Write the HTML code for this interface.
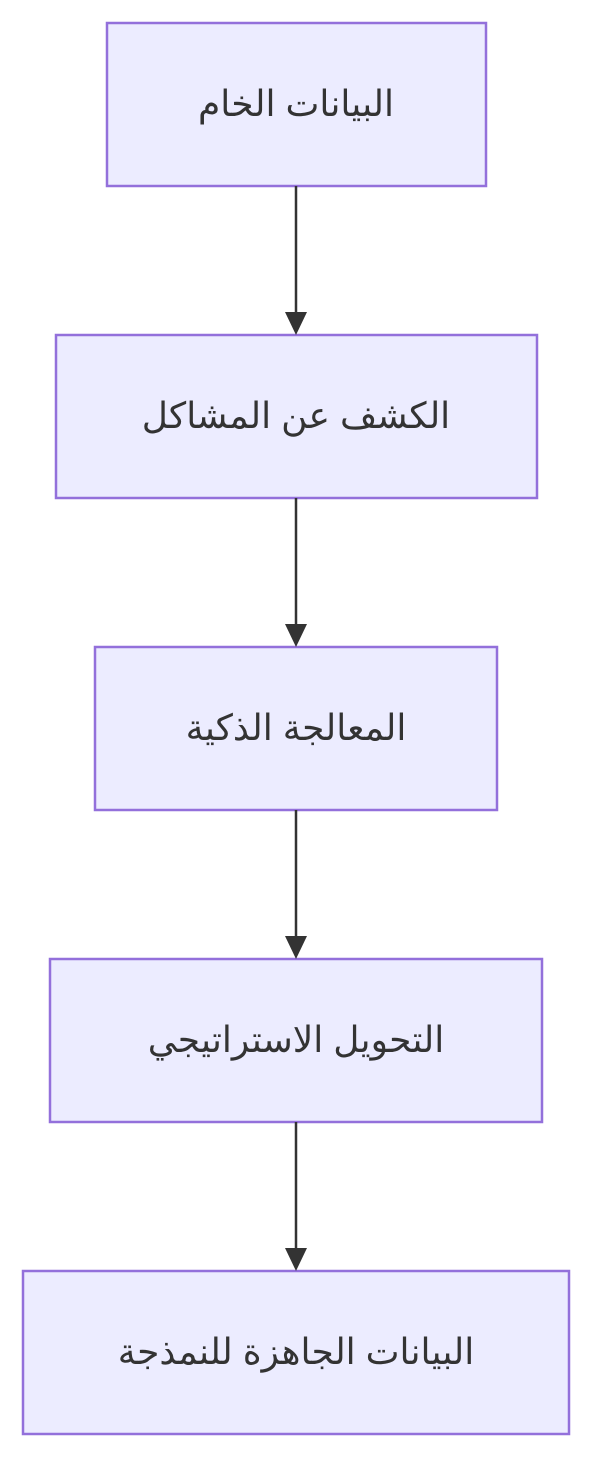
<!DOCTYPE html>
<html><head><meta charset="utf-8"><style>
html,body{margin:0;padding:0;background:#fff;}
svg{display:block;}
text{font-family:"Liberation Sans","DejaVu Sans",sans-serif;font-size:36px;fill:#333;}
</style></head><body>
<svg width="593" height="1458" viewBox="0 0 593 1458" xmlns="http://www.w3.org/2000/svg">
<g fill="#ECECFF" stroke="#9370DB" stroke-width="2.5">
<rect x="107" y="23" width="379" height="163"/>
<rect x="56" y="335" width="481" height="163"/>
<rect x="95" y="647" width="402" height="163"/>
<rect x="50" y="959" width="492" height="163"/>
<rect x="23" y="1271" width="546" height="163"/>
</g>
<g stroke="#333" stroke-width="2.5">
<line x1="296" y1="186" x2="296" y2="318"/>
<line x1="296" y1="498" x2="296" y2="630"/>
<line x1="296" y1="810" x2="296" y2="942"/>
<line x1="296" y1="1122" x2="296" y2="1254"/>
</g>
<g fill="#333">
<path d="M285 312 L307 312 L296 335 Z"/>
<path d="M285 624 L307 624 L296 647 Z"/>
<path d="M285 936 L307 936 L296 959 Z"/>
<path d="M285 1248 L307 1248 L296 1271 Z"/>
</g>
<g text-anchor="middle" direction="rtl">
<text x="296" y="116">البيانات الخام</text>
<text x="296" y="428">الكشف عن المشاكل</text>
<text x="296" y="740">المعالجة الذكية</text>
<text x="296" y="1052">التحويل الاستراتيجي</text>
<text x="296" y="1364">البيانات الجاهزة للنمذجة</text>
</g>
</svg>
</body></html>
